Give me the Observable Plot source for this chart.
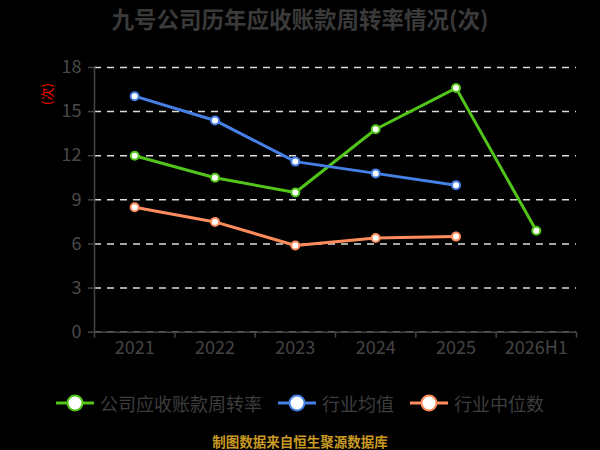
<!DOCTYPE html>
<html>
<head>
<meta charset="utf-8">
<script src="https://cdn.jsdelivr.net/npm/d3@7"></script>
<script src="https://cdn.jsdelivr.net/npm/@observablehq/plot@0.6"></script>
<style>
  html, body { margin: 0; padding: 0; background: #000; }
  body { width: 600px; height: 450px; position: relative; overflow: hidden; font-family: "Noto Sans CJK SC", "Noto Sans", sans-serif; }
  #title { position: absolute; top: 0; left: 0; width: 600px; height: 36px; line-height: 36px; text-align: center; font-size: 22.5px; font-weight: bold; color: #3a3a3a; }
  #chart { position: absolute; top: 36px; left: 0; }
  #ylab { position: absolute; left: 37px; top: 85px; width: 20px; height: 20px; line-height: 20px; font-size: 13px; color: #ff0000; transform: rotate(-90deg); text-align: center; white-space: nowrap; }
  #legend { position: absolute; top: 390px; left: 0; width: 600px; height: 26px; display: flex; justify-content: center; align-items: center; gap: 16px; font-size: 18px; color: #3d3d3d; }
  .item { display: flex; align-items: center; gap: 6px; }
  #caption { position: absolute; top: 431px; left: 0; width: 600px; height: 20px; line-height: 20px; text-align: center; font-size: 13.5px; font-weight: bold; color: #c99a22; }
</style>
</head>
<body>
<div id="title">九号公司历年应收账款周转率情况(次)</div>
<div id="chart"></div>
<div id="ylab">(次)</div>
<div id="legend"></div>
<div id="caption">制图数据来自恒生聚源数据库</div>
<script>
const years = ["2021", "2022", "2023", "2024", "2025", "2026H1"];
const company = [12.0, 10.5, 9.5, 13.8, 16.6, 6.9];
const industryAvg = [16.05, 14.4, 11.6, 10.8, 10.0, null];
const industryMedian = [8.5, 7.5, 5.9, 6.4, 6.5, null];
const yTicks = [0, 3, 6, 9, 12, 15, 18];
const seriesNames = ["公司应收账款周转率", "行业均值", "行业中位数"];
const colors = ["#52c41a", "#4680e6", "#ff8c5c"];

const seriesValues = [company, industryAvg, industryMedian];
const rows = [];
seriesValues.forEach((vals, s) => {
  vals.forEach((v, i) => {
    if (v != null) rows.push({series: seriesNames[s], idx: i, year: years[i], value: v});
  });
});
const idxs = years.map((_, i) => i);
const boundaries = years.map((_, i) => i - 0.5).concat([years.length - 0.5]);

const chart = Plot.plot({
  width: 600,
  height: 340,
  marginLeft: 94,
  marginRight: 24,
  marginTop: 31,
  marginBottom: 44.3,
  style: {background: "transparent", fontFamily: "'Noto Sans CJK SC', sans-serif"},
  x: {type: "linear", domain: [-0.5, years.length - 0.5], axis: null},
  y: {domain: [0, 18], axis: null},
  color: {domain: seriesNames, range: colors},
  marks: [
    Plot.gridY(yTicks, {stroke: "#dcdcdc", strokeOpacity: 1, strokeWidth: 1.5, strokeDasharray: "7,6"}),
    Plot.ruleY([0], {stroke: "#444", strokeWidth: 1.5}),
    Plot.ruleX([boundaries[0]], {y1: 0, y2: 18, stroke: "#444", strokeWidth: 1.5}),
    Plot.axisY({ticks: yTicks, tickSize: 6, tickPadding: 7, stroke: "#444", fill: "#4a4a4a", fontSize: 18, label: null, strokeWidth: 1.5}),
    Plot.axisX({ticks: boundaries, tickSize: 6, tickFormat: () => "", stroke: "#444", label: null, strokeWidth: 1.5}),
    Plot.axisX({ticks: idxs, tickSize: 0, tickPadding: 9, tickFormat: i => years[i], fill: "#444", fontSize: 18, label: null}),
    Plot.line(rows, {x: "idx", y: "value", z: "series", stroke: "series", strokeWidth: 3}),
    Plot.dot(rows, {x: "idx", y: "value", stroke: "series", fill: "white", r: 4, strokeWidth: 2})
  ]
});
document.getElementById("chart").appendChild(chart);

const legend = document.getElementById("legend");
seriesNames.forEach((name, s) => {
  const item = document.createElement("div");
  item.className = "item";
  item.innerHTML = `<svg width="38" height="20"><line x1="0" y1="10" x2="38" y2="10" stroke="${colors[s]}" stroke-width="3"/><circle cx="19" cy="10" r="7.5" fill="white" stroke="${colors[s]}" stroke-width="2"/></svg><span>${name}</span>`;
  legend.appendChild(item);
});
</script>
</body>
</html>
